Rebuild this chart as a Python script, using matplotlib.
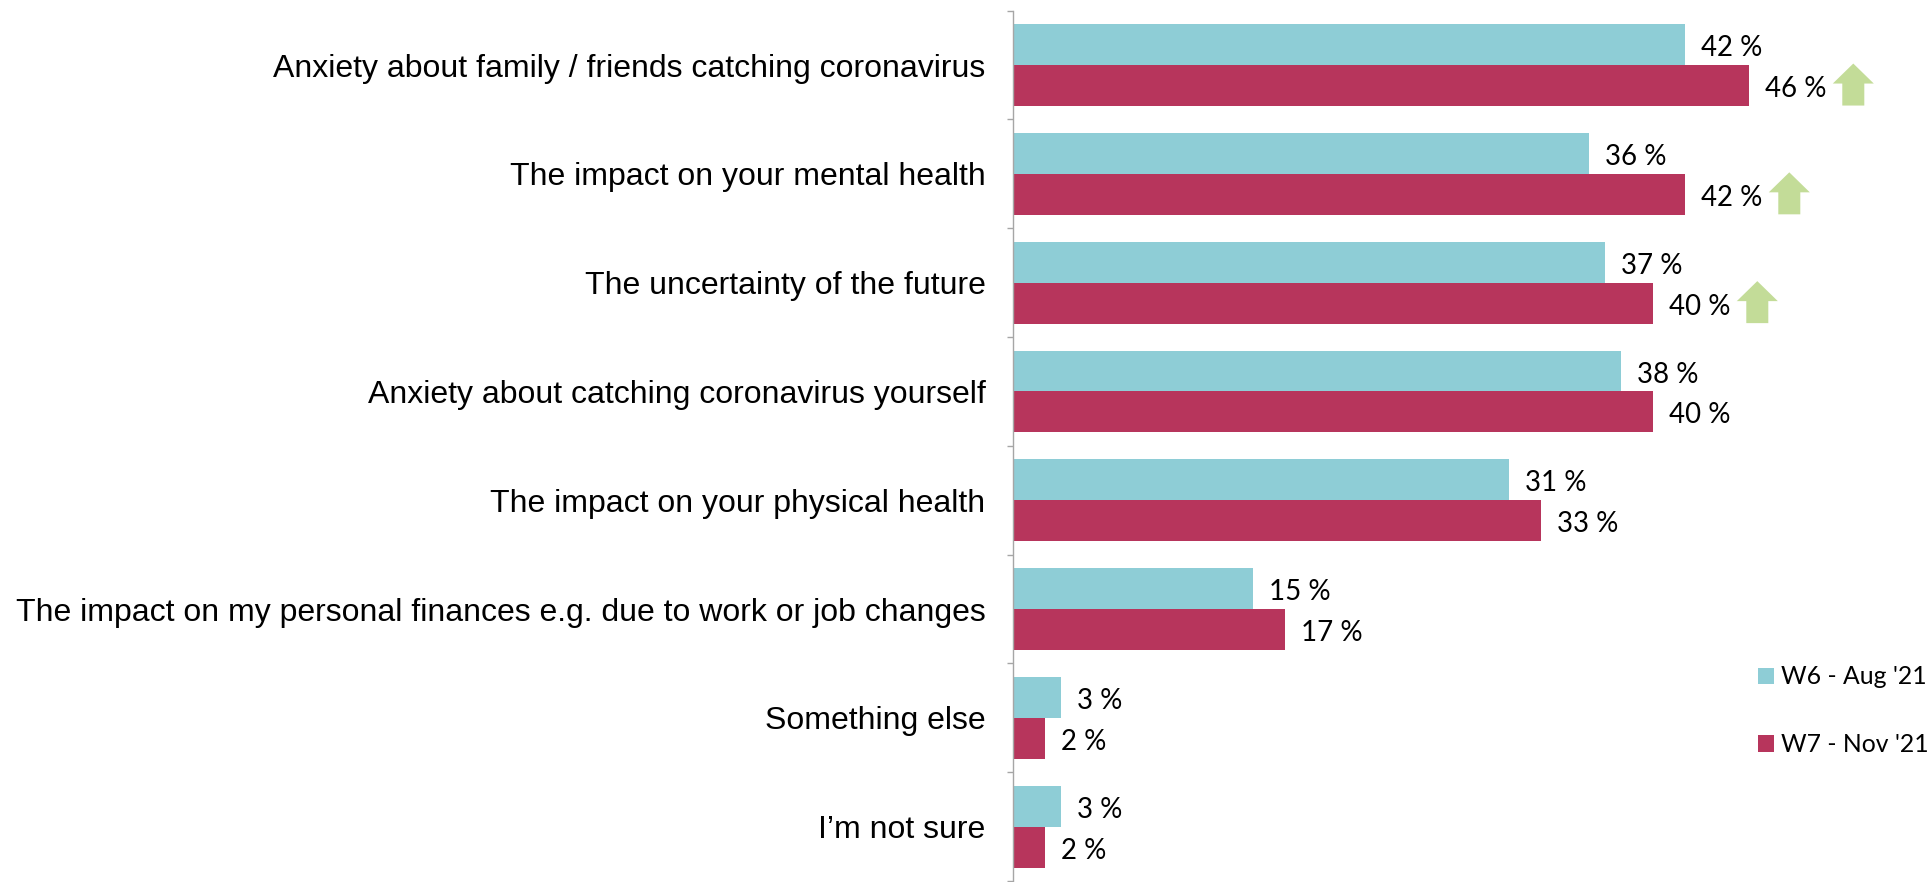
import matplotlib
matplotlib.use('Agg')
import matplotlib.pyplot as plt
from matplotlib.patches import Polygon
import numpy as np

categories = [
    'Anxiety about family / friends catching coronavirus',
    'The impact on your mental health',
    'The uncertainty of the future',
    'Anxiety about catching coronavirus yourself',
    'The impact on your physical health',
    'The impact on my personal finances e.g. due to work or job changes',
    'Something else',
    'I’m not sure',
]
w6_values = [42, 36, 37, 38, 31, 15, 3, 3]
w7_values = [46, 42, 40, 40, 33, 17, 2, 2]
w7_up = [True, True, True, False, False, False, False, False]
series_names = ["W6 - Aug '21", "W7 - Nov '21"]

teal = '#8ECDD6'
crimson = '#B7355C'
green = '#C3DC98'
grey = '#A6A6A6'

W, H = 1929, 882
fig = plt.figure(figsize=(W / 100, H / 100), dpi=100)
ax = fig.add_axes([1013.3 / W, 1 / H, (W - 1013.3) / W, 870.3 / H])
ax.set_xlim(0, (W - 1013.3) / 16.0)
ax.set_ylim(7.5, -0.5)

px_x = 1 / 16.0   # data units per pixel
px_y = 1 / 108.8

y = np.arange(len(categories))
bar_h = 0.376
ax.barh(y - bar_h / 2, w6_values, bar_h, color=teal, label=series_names[0])
ax.barh(y + bar_h / 2, w7_values, bar_h, color=crimson, label=series_names[1])

for yi, v in zip(y, w6_values):
    ax.text(v + 16 * px_x, yi - bar_h / 2 + 3.5 * px_y, f'{v} %', va='center', ha='left',
            family='Lato', fontsize=19.9, color='black')
for yi, v in zip(y, w7_values):
    ax.text(v + 16 * px_x, yi + bar_h / 2 + 3.5 * px_y, f'{v} %', va='center', ha='left',
            family='Lato', fontsize=19.9, color='black')


def up_arrow(value, yc):
    # block arrow sitting to the right of the value label
    xc = value + 104 * px_x
    head = 20.5 * px_x
    stem = 11 * px_x
    tip = yc - 22 * px_y
    neck = yc - 2 * px_y
    foot = yc + 20 * px_y
    pts = [(xc, tip), (xc + head, neck), (xc + stem, neck), (xc + stem, foot),
           (xc - stem, foot), (xc - stem, neck), (xc - head, neck)]
    ax.add_patch(Polygon(pts, closed=True, facecolor=green, edgecolor='none'))


for yi, v, up in zip(y, w7_values, w7_up):
    if up:
        up_arrow(v, yi + bar_h / 2)

for side in ['top', 'right', 'bottom']:
    ax.spines[side].set_visible(False)
ax.spines['left'].set_color(grey)
ax.spines['left'].set_linewidth(1.0)

ax.set_xticks([])
ax.set_yticks(y)
ax.set_yticklabels(categories, family='Liberation Sans', fontsize=23)
ax.tick_params(axis='y', which='major', length=0, pad=20)
ax.set_yticks(np.arange(-0.5, len(categories)), minor=True)
ax.tick_params(axis='y', which='minor', length=4, width=1.0, color=grey)

fig.legend(loc='upper left', bbox_to_anchor=(1758 / W, 1 - 665.5 / H), frameon=False,
           prop={'family': 'Lato', 'size': 17.8}, handlelength=0.65, handleheight=0.65,
           handletextpad=0.3, labelspacing=1.8, borderpad=0, borderaxespad=0)

fig.savefig('out.png', dpi=100)
